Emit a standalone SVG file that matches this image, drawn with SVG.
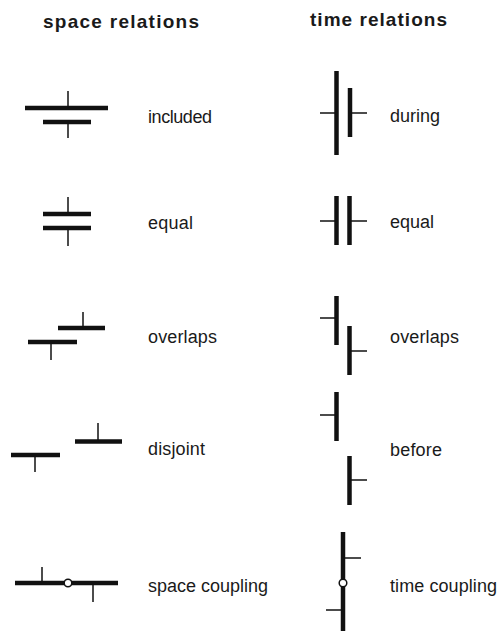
<svg xmlns="http://www.w3.org/2000/svg" width="500" height="631" viewBox="0 0 500 631">
<style>
text{font-family:"Liberation Sans",Arial,sans-serif;font-size:18px;fill:#1a1a1a}
.title{font-weight:bold;font-size:19px}
.bar{stroke:#111;stroke-width:4.5;fill:none}
.tick{stroke:#111;stroke-width:1.5;fill:none}
.ring{stroke:#111;stroke-width:1.5;fill:#fff}
</style>
<rect width="500" height="631" fill="#fff"/>
<text class="title" x="43" y="28" textLength="156" lengthAdjust="spacing">space relations</text>
<text class="title" x="310" y="26" textLength="137" lengthAdjust="spacing">time relations</text>

<g id="space-included">
<line class="bar" x1="25" y1="108" x2="108" y2="108"/>
<line class="bar" x1="43" y1="122" x2="91" y2="122"/>
<line class="tick" x1="68" y1="91" x2="68" y2="108"/>
<line class="tick" x1="68" y1="122" x2="68" y2="138"/>
<text x="148" y="123" textLength="64" lengthAdjust="spacing">included</text>
</g>
<g id="space-equal">
<line class="bar" x1="43" y1="214" x2="91" y2="214"/>
<line class="bar" x1="43" y1="228" x2="91" y2="228"/>
<line class="tick" x1="68" y1="197" x2="68" y2="214"/>
<line class="tick" x1="68" y1="228" x2="68" y2="246"/>
<text x="148" y="229" textLength="45" lengthAdjust="spacing">equal</text>
</g>
<g id="space-overlaps">
<line class="bar" x1="58" y1="328" x2="105" y2="328"/>
<line class="bar" x1="28" y1="342" x2="77" y2="342"/>
<line class="tick" x1="83" y1="312" x2="83" y2="328"/>
<line class="tick" x1="51" y1="342" x2="51" y2="360"/>
<text x="148" y="343" textLength="69" lengthAdjust="spacing">overlaps</text>
</g>
<g id="space-disjoint">
<line class="bar" x1="75" y1="441.5" x2="122" y2="441.5"/>
<line class="bar" x1="11" y1="455" x2="60" y2="455"/>
<line class="tick" x1="98" y1="423" x2="98" y2="441"/>
<line class="tick" x1="35" y1="455" x2="35" y2="472"/>
<text x="148" y="455" textLength="57" lengthAdjust="spacing">disjoint</text>
</g>
<g id="space-coupling">
<line class="bar" x1="15" y1="583" x2="118" y2="583"/>
<line class="tick" x1="42" y1="567" x2="42" y2="583"/>
<line class="tick" x1="93" y1="583" x2="93" y2="602"/>
<circle class="ring" cx="68" cy="583" r="3.8"/>
<text x="148" y="592" textLength="120" lengthAdjust="spacing">space coupling</text>
</g>

<g id="time-during">
<line class="bar" x1="336.5" y1="71" x2="336.5" y2="155"/>
<line class="bar" x1="350" y1="88" x2="350" y2="137"/>
<line class="tick" x1="320" y1="113" x2="336" y2="113"/>
<line class="tick" x1="350" y1="113" x2="367" y2="113"/>
<text x="390" y="122" textLength="50" lengthAdjust="spacing">during</text>
</g>
<g id="time-equal">
<line class="bar" x1="336.5" y1="196" x2="336.5" y2="245"/>
<line class="bar" x1="349.5" y1="196" x2="349.5" y2="245"/>
<line class="tick" x1="320" y1="221" x2="336" y2="221"/>
<line class="tick" x1="349" y1="221" x2="367" y2="221"/>
<text x="390" y="228" textLength="44" lengthAdjust="spacing">equal</text>
</g>
<g id="time-overlaps">
<line class="bar" x1="336.5" y1="296" x2="336.5" y2="345"/>
<line class="bar" x1="349.5" y1="326" x2="349.5" y2="375"/>
<line class="tick" x1="320" y1="318" x2="336" y2="318"/>
<line class="tick" x1="349" y1="351" x2="367" y2="351"/>
<text x="390" y="343" textLength="69" lengthAdjust="spacing">overlaps</text>
</g>
<g id="time-before">
<line class="bar" x1="336.5" y1="392" x2="336.5" y2="441"/>
<line class="bar" x1="349.5" y1="456" x2="349.5" y2="505"/>
<line class="tick" x1="320" y1="415" x2="336" y2="415"/>
<line class="tick" x1="349" y1="480" x2="367" y2="480"/>
<text x="390" y="456" textLength="52" lengthAdjust="spacing">before</text>
</g>
<g id="time-coupling">
<line class="bar" x1="343" y1="532" x2="343" y2="631"/>
<line class="tick" x1="343" y1="558" x2="361" y2="558"/>
<line class="tick" x1="326" y1="610" x2="343" y2="610"/>
<circle class="ring" cx="343" cy="583" r="3.8"/>
<text x="390" y="592" textLength="107" lengthAdjust="spacing">time coupling</text>
</g>
<g id="connectors"/>
</svg>
